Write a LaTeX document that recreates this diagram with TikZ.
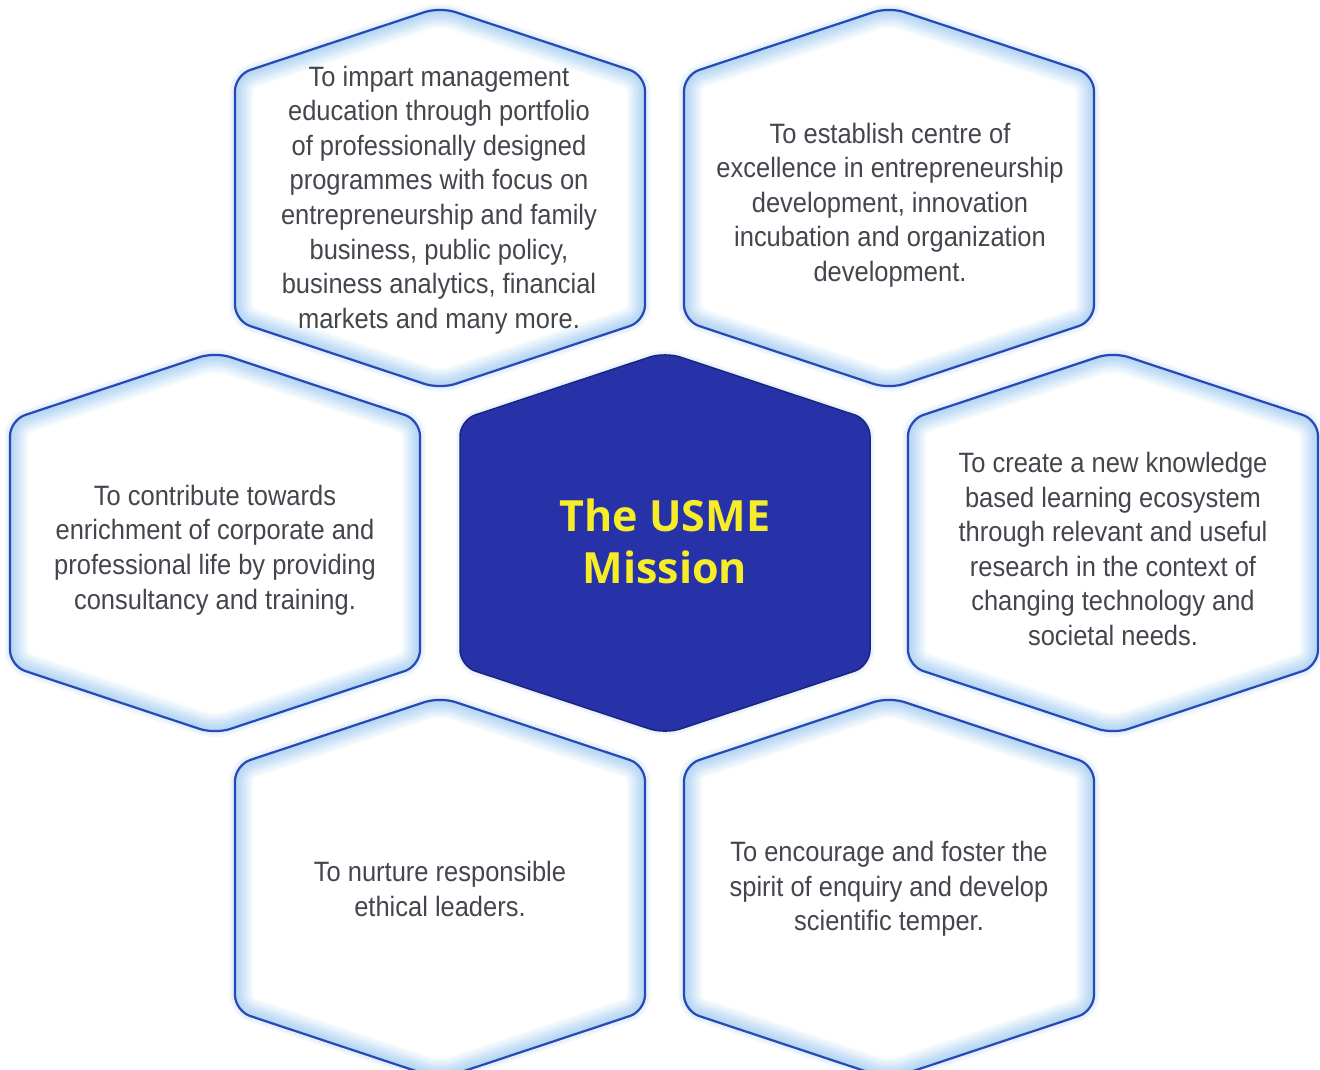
\documentclass[tikz,border=0pt]{standalone}
\usepackage{fontspec}
\setmainfont{Liberation Sans}[FakeStretch=0.91]
\newfontfamily\titlefont{Open Sans}
\definecolor{hexline}{RGB}{42,72,180}
\definecolor{hexglow}{RGB}{130,190,240}
\definecolor{coreblue}{RGB}{40,50,168}
\definecolor{coreline}{RGB}{28,36,125}
\definecolor{txtgray}{RGB}{68,70,78}
\definecolor{titleyellow}{RGB}{246,236,40}
\def\hexp#1{([shift={(0,-191)}]#1) -- ([shift={(205,-123)}]#1) -- ([shift={(205,123)}]#1) -- ([shift={(0,191)}]#1) -- ([shift={(-205,123)}]#1) -- ([shift={(-205,-123)}]#1) -- cycle}
\newcommand\glowhex[1]{%
  \foreach \w in {3,6,9,12}{\draw[hexglow, opacity=0.07, line width=\w, rounded corners=16] \hexp{#1};}
  \begin{scope}
    \clip[rounded corners=16] \hexp{#1};
    \fill[white, rounded corners=16] \hexp{#1};
    \foreach \w in {3,6,9,12,15,18,21,24,28,32,36}{\draw[hexglow, opacity=0.075, line width=\w, rounded corners=16] \hexp{#1};}
  \end{scope}
  \draw[hexline, line width=2.2, rounded corners=16] \hexp{#1};
}
\tikzset{
  mtext/.style={align=center, inner sep=0pt, text=txtgray, font=\fontsize{28}{34.6}\selectfont},
  ttext/.style={align=center, inner sep=0pt, text=titleyellow, font=\titlefont\bfseries\fontsize{43}{52}\selectfont}
}
\begin{document}
\begin{tikzpicture}[x=1pt, y=-1pt]
\useasboundingbox (0,0) rectangle (1320,1069);
\fill[white] (0,0) rectangle (1320,1069);
\coordinate (hTL) at (440,198);
\coordinate (hTR) at (889,198);
\coordinate (hL) at (215,543);
\coordinate (hC) at (665,543);
\coordinate (hR) at (1113,543);
\coordinate (hBL) at (440,888);
\coordinate (hBR) at (889,888);
\glowhex{hTL}
\glowhex{hTR}
\glowhex{hL}
\glowhex{hR}
\glowhex{hBL}
\glowhex{hBR}
\foreach \w in {3,6,9}{\draw[hexglow, opacity=0.08, line width=\w, rounded corners=16] \hexp{hC};}
\filldraw[fill=coreblue, draw=coreline, line width=1.5, rounded corners=16] \hexp{hC};
\node[mtext] (tTL) at (439,200) {To impart management\\education through portfolio\\of professionally designed\\programmes with focus on\\entrepreneurship and family\\business, public policy,\\business analytics, financial\\markets and many more.};
\node[mtext] (tTR) at (890,205) {To establish centre of\\excellence in entrepreneurship\\development, innovation\\incubation and organization\\development.};
\node[mtext] (tL) at (215,550) {To contribute towards\\enrichment of corporate and\\professional life by providing\\consultancy and training.};
\node[mtext] (tR) at (1113,549) {To create a new knowledge\\based learning ecosystem\\through relevant and useful\\research in the context of\\changing technology and\\societal needs.};
\node[mtext] (tBL) at (440,889) {To nurture responsible\\ethical leaders.};
\node[mtext] (tBR) at (889,889) {To encourage and foster the\\spirit of enquiry and develop\\scientific temper.};
\node[ttext] (tC) at (665,541) {The USME\\Mission};
\end{tikzpicture}
\end{document}
